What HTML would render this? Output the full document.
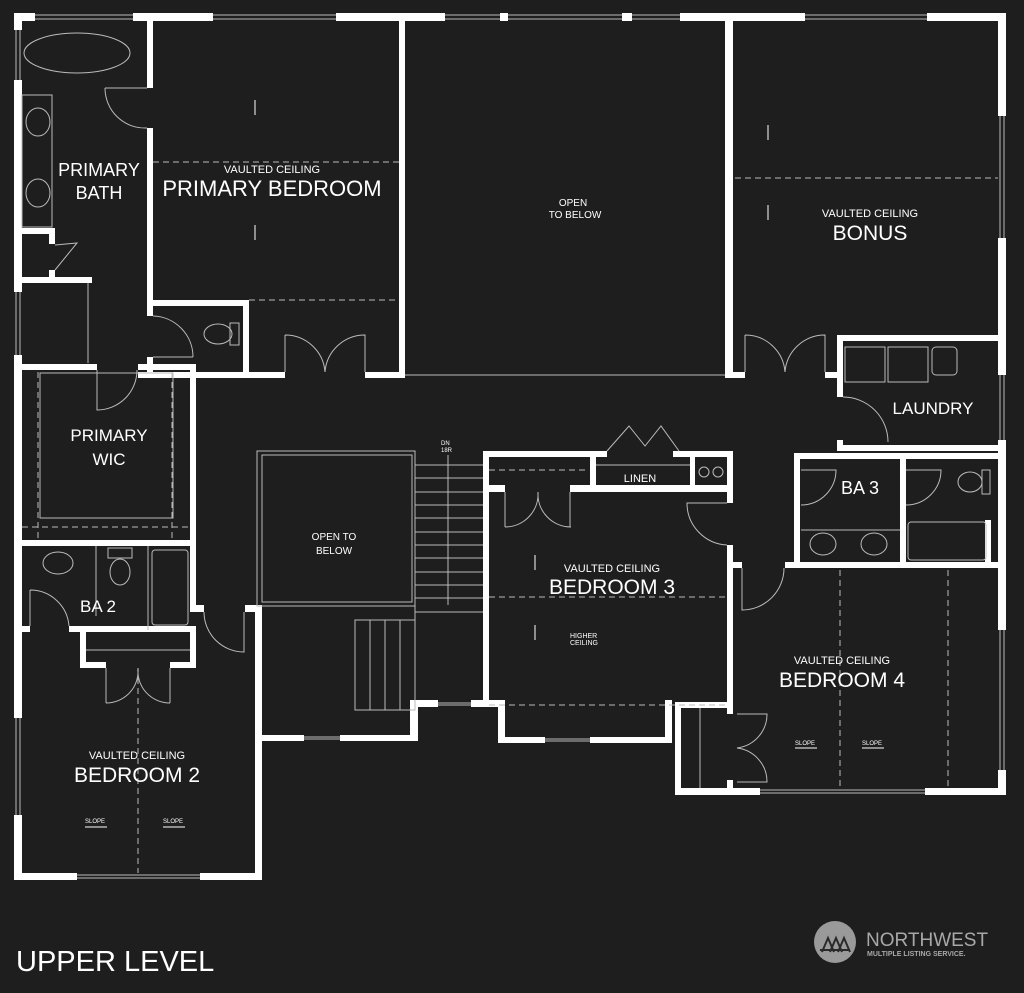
<!DOCTYPE html>
<html><head><meta charset="utf-8"><style>
html,body{margin:0;padding:0;background:#1e1e1e;}
svg{display:block}
text{font-family:"Liberation Sans",sans-serif;fill:#fff}
</style></head><body>
<svg width="1024" height="993" viewBox="0 0 1024 993" xmlns="http://www.w3.org/2000/svg">
<rect width="1024" height="993" fill="#1e1e1e"/>
<g fill="#fff">
<rect x="14" y="13" width="21" height="8"/><rect x="133" y="13" width="80" height="8"/>
<rect x="336" y="13" width="109" height="8"/><rect x="500" y="13" width="8" height="8"/>
<rect x="622" y="13" width="10" height="8"/><rect x="680" y="13" width="125" height="8"/>
<rect x="927" y="13" width="79" height="8"/>
<rect x="14" y="13" width="8" height="17"/><rect x="14" y="80" width="8" height="212"/>
<rect x="14" y="355" width="8" height="363"/><rect x="14" y="815" width="8" height="65"/>
<rect x="998" y="13" width="8" height="103"/><rect x="998" y="238" width="8" height="100"/>
<rect x="998" y="335" width="8" height="40"/><rect x="998" y="440" width="8" height="190"/>
<rect x="998" y="770" width="8" height="25"/>
<rect x="147" y="13" width="6" height="75"/><rect x="147" y="128" width="6" height="188"/>
<rect x="147" y="357" width="6" height="21"/>
<rect x="22" y="228" width="33" height="6"/><rect x="49" y="228" width="6" height="16"/>
<rect x="22" y="277" width="70" height="6"/><rect x="49" y="270" width="6" height="10"/>
<rect x="147" y="300" width="101" height="6"/><rect x="243" y="300" width="6" height="78"/>
<rect x="138" y="372" width="147" height="6"/><rect x="365" y="372" width="40" height="6"/>
<rect x="399" y="13" width="6" height="365"/>
<rect x="725" y="13" width="8" height="365"/>
<rect x="725" y="372" width="20" height="6"/><rect x="825" y="372" width="18" height="6"/>
<rect x="14" y="364" width="83" height="6"/><rect x="138" y="364" width="58" height="6"/>
<rect x="190" y="364" width="6" height="182"/><rect x="14" y="540" width="182" height="6"/>
<rect x="190" y="546" width="6" height="64"/><rect x="190" y="605" width="14" height="7"/>
<rect x="14" y="626" width="16" height="6"/><rect x="69" y="626" width="127" height="6"/>
<rect x="80" y="632" width="6" height="36"/><rect x="80" y="662" width="26" height="6"/>
<rect x="170" y="662" width="26" height="6"/><rect x="190" y="626" width="6" height="42"/>
<rect x="245" y="605" width="17" height="7"/><rect x="255" y="605" width="7" height="275"/>
<rect x="14" y="873" width="63" height="7"/><rect x="200" y="873" width="62" height="7"/>
<rect x="262" y="735" width="42" height="6"/><rect x="340" y="735" width="78" height="6"/>
<rect x="410" y="700" width="8" height="41"/><rect x="410" y="700" width="28" height="7"/>
<rect x="471" y="700" width="34" height="7"/>
<rect x="483" y="451" width="124" height="6"/><rect x="673" y="451" width="60" height="6"/>
<rect x="483" y="451" width="6" height="256"/>
<rect x="590" y="451" width="6" height="38"/><rect x="690" y="451" width="5" height="38"/>
<rect x="483" y="485" width="22" height="7"/><rect x="570" y="485" width="163" height="7"/>
<rect x="727" y="451" width="6" height="52"/><rect x="727" y="545" width="6" height="168"/>
<rect x="727" y="562" width="15" height="6"/>
<rect x="498" y="700" width="7" height="43"/><rect x="498" y="737" width="47" height="6"/>
<rect x="590" y="737" width="82" height="6"/><rect x="665" y="700" width="7" height="43"/>
<rect x="675" y="702" width="6" height="93"/><rect x="675" y="702" width="58" height="6"/>
<rect x="727" y="702" width="6" height="12"/><rect x="727" y="780" width="6" height="15"/>
<rect x="675" y="788" width="85" height="7"/><rect x="925" y="788" width="81" height="7"/>
<rect x="837" y="335" width="169" height="6"/><rect x="837" y="335" width="6" height="62"/>
<rect x="837" y="440" width="6" height="11"/><rect x="837" y="445" width="169" height="6"/>
<rect x="794" y="453" width="212" height="6"/><rect x="794" y="453" width="6" height="115"/>
<rect x="900" y="453" width="6" height="115"/><rect x="785" y="562" width="221" height="6"/>
<rect x="985" y="520" width="6" height="42"/>
</g>
<g stroke="#bbb" stroke-width="1" fill="none">
<path d="M35 15h98M35 19h98M213 15h123M213 19h123M445 15h55M445 19h55M508 15h114M508 19h114M632 15h48M632 19h48M805 15h122M805 19h122"/>
<path d="M16 30v50M20 30v50M16 292v63M20 292v63M16 718v97M20 718v97M1000 116v122M1004 116v122M1000 375v65M1004 375v65M1000 630v140M1004 630v140"/>
<path d="M77 875h123M77 878h123M760 790h165M760 793h165M304 737h36M304 739h36M545 739h45M545 741h45M438 703h33M438 705h33"/>
<ellipse cx="77" cy="53" rx="53" ry="20"/>
<rect x="22" y="95" width="30" height="132"/><ellipse cx="38" cy="122" rx="12" ry="14"/><ellipse cx="38" cy="193" rx="12" ry="14"/>
<path d="M105 88h42M105 88a40 40 0 0 0 42 40"/>
<path d="M55 245l22 -2l-22 27"/>
<path d="M88 283v80"/>
<path d="M153 316a41 41 0 0 1 40 41M153 357h40"/>
<ellipse cx="218" cy="334" rx="14" ry="10"/><rect x="230" y="323" width="9" height="22"/>
<path d="M285 335v37M285 335a40 40 0 0 1 40 37a40 40 0 0 1 40 -37v37"/>
<path d="M153 162h246M249 300h150M735 178h263" stroke-dasharray="6 4"/>
<path d="M405 375h320"/>
<path d="M745 335v37M745 335a40 40 0 0 1 40 37a40 40 0 0 1 40 -37v37"/>
<rect x="845" y="347" width="40" height="35"/><rect x="888" y="347" width="40" height="35"/><rect x="932" y="347" width="25" height="28" rx="4"/>
<path d="M843 397a45 45 0 0 1 45 45"/>
<path d="M97 370v40a40 40 0 0 0 40 -40"/>
<rect x="40" y="373" width="133" height="145"/>
<path d="M22 527h168M38 372v168M172 372v168" stroke-dasharray="6 4"/>
<ellipse cx="58" cy="563" rx="15" ry="11"/><path d="M96 546v70"/><ellipse cx="120" cy="572" rx="10" ry="13"/><rect x="108" y="548" width="24" height="10"/><path d="M148 546v84"/>
<rect x="152" y="550" width="36" height="75" rx="3"/>
<path d="M30 590v36M30 590a39 39 0 0 1 39 36"/>
<path d="M86 650h104M106 668v35M170 668v35M106 703a32 32 0 0 0 32 -35a32 32 0 0 0 32 35"/>
<path d="M138 668v205" stroke-dasharray="6 4"/>
<path d="M204 612a40 40 0 0 0 40 40v-40"/>
<rect x="257" y="451" width="158" height="155"/><rect x="262" y="455" width="150" height="147"/>
<path d="M415 455v165"/>
<path d="M415 465h68M415 478h68M415 492h68M415 505h68M415 518h68M415 532h68M415 545h68M415 558h68M415 572h68M415 585h68M415 598h68M415 612h68"/>
<path d="M448 455v150"/>
<path d="M355 620h60v90h-60zM370 620v90M385 620v90M400 620v90"/>
<path d="M489 470h100" stroke-dasharray="6 4"/>
<path d="M505 492v35M570 492v35M505 527a33 33 0 0 0 33 -35a33 33 0 0 0 33 35"/>
<path d="M607 451l22 -25l16 20l16 -20l18 25"/>
<path d="M596 465h94"/>
<circle cx="704" cy="472" r="5"/><circle cx="718" cy="472" r="5"/>
<path d="M727 503h-40a42 42 0 0 0 40 42"/>
<path d="M489 597h238M489 705h238M840 570v218M948 570v218" stroke-dasharray="6 4"/>
<path d="M742 568v42a42 42 0 0 0 42 -42"/>
<path d="M737 714h30a34 34 0 0 1 -30 34a34 34 0 0 1 30 34h-30M700 708v80"/>
<path d="M801 470h35a35 35 0 0 1 -35 35M906 470h35a35 35 0 0 1 -35 35"/>
<path d="M801 530h99"/><ellipse cx="823" cy="544" rx="13" ry="11"/><ellipse cx="874" cy="544" rx="13" ry="11"/>
<rect x="908" y="522" width="78" height="38" rx="3"/>
<ellipse cx="970" cy="482" rx="12" ry="10"/><rect x="982" y="470" width="8" height="24"/>
</g>
<g font-size="6" fill="#fff">
<text x="85" y="823">SLOPE</text><text x="163" y="823">SLOPE</text>
<text x="795" y="745">SLOPE</text><text x="862" y="745">SLOPE</text>
<text x="441" y="445">DN</text><text x="441" y="452">18R</text>
<text x="570" y="638" font-size="7">HIGHER</text><text x="570" y="645" font-size="7">CEILING</text>
</g>
<g stroke="#fff" stroke-width="1"><path d="M85 827h22M163 827h22M795 748h22M862 748h22M255 100v15M255 225v15M535 555v15M535 625v15M768 125v15M768 205v15"/></g>
<g text-anchor="middle">
<text x="99" y="176" font-size="18">PRIMARY</text><text x="99" y="199" font-size="18">BATH</text>
<text x="272" y="173" font-size="11">VAULTED CEILING</text><text x="272" y="196" font-size="22">PRIMARY BEDROOM</text>
<text x="573" y="206" font-size="10">OPEN</text><text x="575" y="218" font-size="10">TO BELOW</text>
<text x="870" y="217" font-size="11">VAULTED CEILING</text><text x="870" y="240" font-size="21">BONUS</text>
<text x="933" y="414" font-size="17">LAUNDRY</text>
<text x="109" y="441" font-size="17">PRIMARY</text><text x="109" y="465" font-size="17">WIC</text>
<text x="334" y="540" font-size="10">OPEN TO</text><text x="334" y="554" font-size="10">BELOW</text>
<text x="640" y="482" font-size="11">LINEN</text>
<text x="860" y="494" font-size="18">BA 3</text>
<text x="612" y="572" font-size="11">VAULTED CEILING</text><text x="612" y="594" font-size="21">BEDROOM 3</text>
<text x="98" y="612" font-size="17">BA 2</text>
<text x="842" y="664" font-size="11">VAULTED CEILING</text><text x="842" y="687" font-size="21">BEDROOM 4</text>
<text x="137" y="759" font-size="11">VAULTED CEILING</text><text x="137" y="782" font-size="21">BEDROOM 2</text>
</g>
<text x="16" y="971" font-size="29">UPPER LEVEL</text>
<circle cx="835" cy="942" r="21" fill="#9a9a9a"/>
<path d="M822 952l6 -14l6 14M830 952l6 -14l6 14M838 952l6 -14l6 14M820 950h30" stroke="#2a2a2a" stroke-width="2" fill="none"/>
<text x="866" y="946" font-size="19" style="fill:#a8a8a8">NORTHWEST</text>
<text x="867" y="956" font-size="7" font-weight="bold" style="fill:#a8a8a8">MULTIPLE LISTING SERVICE.</text>
</svg>
</body></html>
